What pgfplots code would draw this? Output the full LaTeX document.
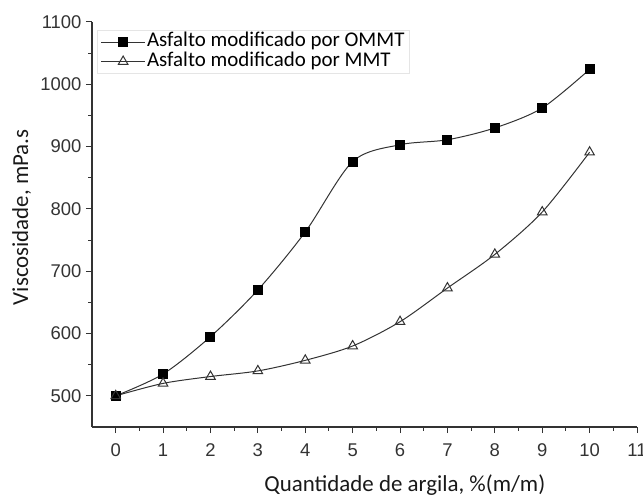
\documentclass[border=0pt]{standalone}
\usepackage{pgfplots}
\pgfplotsset{compat=1.18}
\usepackage{fontspec}
\setmainfont{Carlito}
\newfontfamily\arialfont{Liberation Sans}

% Viscosity of modified asphalt against clay content
\pgfplotstableread{
x   y
0   500
1   535
2   595
3   670
4   763
5   876
6   903
7   911
8   930
9   962
10  1024
}\ommt
\pgfplotstableread{
x   y
0   500
1   520
2   531
3   540
4   557
5   580
6   619
7   673
8   727
9   795
10  891
}\mmt

\begin{document}
\begin{tikzpicture}
\useasboundingbox (-92bp,-69bp) rectangle (551bp,427bp);
\begin{axis}[
  scale only axis,
  width=545bp, height=405bp,
  xmin=-0.5, xmax=11,
  ymin=450, ymax=1100,
  axis x line=bottom, axis y line=left,
  axis line style={-, line width=1.2bp, black!80},
  xtick={0,1,...,11},
  ytick={500,600,...,1100},
  minor x tick num=1,
  minor y tick num=1,
  tick align=outside,
  major tick length=6bp,
  minor tick length=3.5bp,
  tick style={line width=1bp, black!80},
  /pgf/number format/assume math mode=true,
  /pgf/number format/1000 sep={},
  tick label style={font=\arialfont\fontsize{18.5}{18.5}\selectfont, text=black!80},
  xticklabel style={yshift=-7bp},
  yticklabel style={xshift=-1bp},
  xlabel={Quantidade de argila, \%(m/m)},
  ylabel={Viscosidade, mPa.s},
  label style={font=\fontsize{23}{23}\selectfont, text=black!90},
  xlabel style={at={(axis description cs:0.574,-0.160)}, anchor=base},
  ylabel style={at={(axis description cs:-0.1174,0.518)}, anchor=base, rotate=0},
  legend cell align=left,
  legend style={
    at={(axis description cs:0.010,0.98)}, anchor=north west,
    draw=black!10, fill=none,
    font=\fontsize{21}{21}\selectfont,
    nodes={text height=13bp, text depth=3.5bp, inner sep=1.5bp},
    row sep=0pt,
    /tikz/every even column/.append style={column sep=1bp},
  },
  legend image code/.code={
    \draw[mark repeat=2, mark phase=2, #1]
      plot coordinates {(0bp,0bp) (22bp,0bp) (44bp,0bp)};
  },
  every axis plot/.append style={line width=1bp, draw=black!80},
  clip=false,
]
\addplot[smooth, mark=square*, mark size=4.5bp,
  mark options={solid, fill=black, draw=black}] table[x=x, y=y] {\ommt};
\addlegendentry{Asfalto modificado por OMMT}
\addplot[smooth, mark=triangle, mark size=5.5bp,
  mark options={solid, fill=white, draw=black!80}] table[x=x, y=y] {\mmt};
\addlegendentry{Asfalto modificado por MMT}
\end{axis}
\end{tikzpicture}
\end{document}
